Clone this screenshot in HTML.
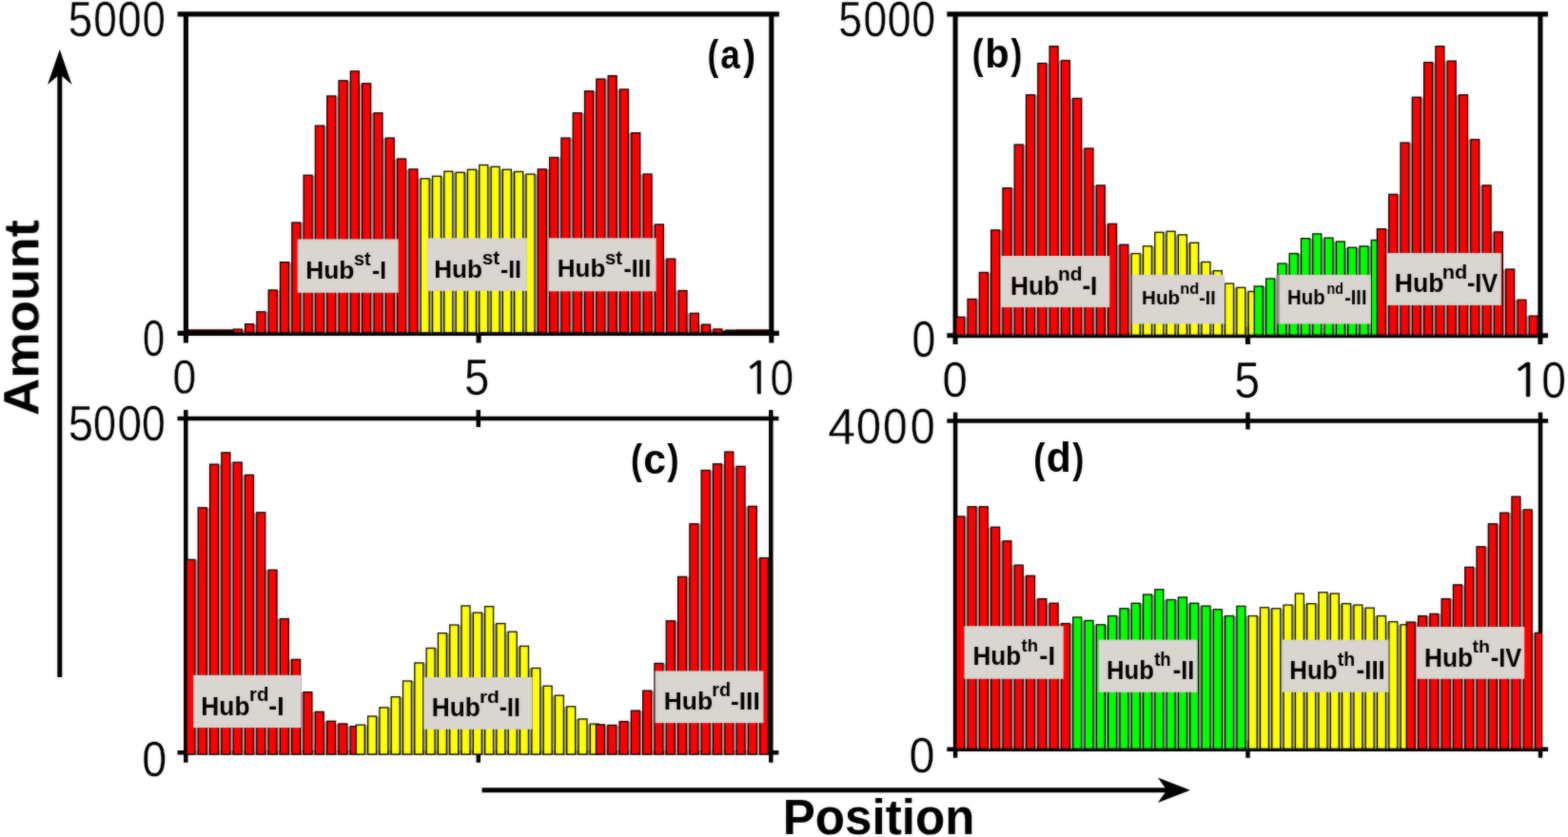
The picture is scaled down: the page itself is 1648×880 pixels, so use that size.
<!DOCTYPE html><html><head><meta charset="utf-8"><style>html,body{margin:0;padding:0;background:#fff;}svg{display:block}</style></head><body>
<svg width="1648" height="880" viewBox="0 0 1648 880" font-family="'Liberation Sans', Arial, sans-serif">
<rect width="1648" height="880" fill="#fff"/>
<filter id="bl" color-interpolation-filters="sRGB" filterUnits="userSpaceOnUse" x="0" y="0" width="1648" height="880"><feGaussianBlur in="SourceGraphic" stdDeviation="0.8" result="b"/><feComposite in="SourceGraphic" in2="b" operator="arithmetic" k1="0" k2="0.55" k3="0.45" k4="0"/></filter>
<g filter="url(#bl)">
<defs>
<clipPath id="ca"><rect x="192.4" y="0" width="616.9" height="880"/></clipPath>
<clipPath id="cb"><rect x="1001.1" y="0" width="616.3000000000001" height="880"/></clipPath>
<clipPath id="cc"><rect x="192.3" y="0" width="616.5" height="880"/></clipPath>
<clipPath id="cd"><rect x="1001.1" y="0" width="619.1999999999999" height="880"/></clipPath>
</defs>
<path d="M186.6,14.9H818.9M186.6,350.4H818.9M195.4,14.9V360.6M810.8,14.9V360.6M503.1,340.2V360.6" stroke="#000" stroke-width="5.1" fill="none"/>
<g stroke="#000" stroke-width="1.35">
<g clip-path="url(#ca)">
<rect x="254.94" y="346.50" width="2.00" height="3.30" fill="#c89494" stroke="none"/>
<rect x="267.25" y="341.00" width="2.00" height="8.80" fill="#c89494" stroke="none"/>
<rect x="279.56" y="328.10" width="2.00" height="21.70" fill="#c89494" stroke="none"/>
<rect x="291.86" y="305.30" width="2.00" height="44.50" fill="#c89494" stroke="none"/>
<rect x="304.17" y="276.00" width="2.00" height="73.80" fill="#c89494" stroke="none"/>
<rect x="316.48" y="234.30" width="2.00" height="115.50" fill="#c89494" stroke="none"/>
<rect x="328.79" y="184.60" width="2.00" height="165.20" fill="#c89494" stroke="none"/>
<rect x="341.10" y="132.50" width="2.00" height="217.30" fill="#c89494" stroke="none"/>
<rect x="353.40" y="101.30" width="2.00" height="248.50" fill="#c89494" stroke="none"/>
<rect x="365.71" y="85.10" width="2.00" height="264.70" fill="#c89494" stroke="none"/>
<rect x="378.02" y="88.10" width="2.00" height="261.70" fill="#c89494" stroke="none"/>
<rect x="390.33" y="119.10" width="2.00" height="230.70" fill="#c89494" stroke="none"/>
<rect x="402.64" y="145.40" width="2.00" height="204.40" fill="#c89494" stroke="none"/>
<rect x="414.94" y="167.30" width="2.00" height="182.50" fill="#c89494" stroke="none"/>
<rect x="427.25" y="178.20" width="2.00" height="171.60" fill="#c89494" stroke="none"/>
<rect x="439.56" y="188.10" width="2.00" height="161.70" fill="#b99e90" stroke="none"/>
<rect x="451.87" y="188.10" width="2.00" height="161.70" fill="#aaa88c" stroke="none"/>
<rect x="464.18" y="185.60" width="2.00" height="164.20" fill="#aaa88c" stroke="none"/>
<rect x="476.48" y="181.60" width="2.00" height="168.20" fill="#aaa88c" stroke="none"/>
<rect x="488.79" y="181.60" width="2.00" height="168.20" fill="#aaa88c" stroke="none"/>
<rect x="501.10" y="178.60" width="2.00" height="171.20" fill="#aaa88c" stroke="none"/>
<rect x="513.41" y="175.60" width="2.00" height="174.20" fill="#aaa88c" stroke="none"/>
<rect x="525.72" y="178.60" width="2.00" height="171.20" fill="#aaa88c" stroke="none"/>
<rect x="538.02" y="180.80" width="2.00" height="169.00" fill="#aaa88c" stroke="none"/>
<rect x="550.33" y="183.40" width="2.00" height="166.40" fill="#aaa88c" stroke="none"/>
<rect x="562.64" y="183.40" width="2.00" height="166.40" fill="#b99e90" stroke="none"/>
<rect x="574.95" y="178.20" width="2.00" height="171.60" fill="#c89494" stroke="none"/>
<rect x="587.26" y="165.90" width="2.00" height="183.90" fill="#c89494" stroke="none"/>
<rect x="599.56" y="145.40" width="2.00" height="204.40" fill="#c89494" stroke="none"/>
<rect x="611.87" y="119.10" width="2.00" height="230.70" fill="#c89494" stroke="none"/>
<rect x="624.18" y="96.10" width="2.00" height="253.70" fill="#c89494" stroke="none"/>
<rect x="636.49" y="83.40" width="2.00" height="266.40" fill="#c89494" stroke="none"/>
<rect x="648.80" y="94.30" width="2.00" height="255.50" fill="#c89494" stroke="none"/>
<rect x="661.10" y="140.00" width="2.00" height="209.80" fill="#c89494" stroke="none"/>
<rect x="673.41" y="183.40" width="2.00" height="166.40" fill="#c89494" stroke="none"/>
<rect x="685.72" y="236.30" width="2.00" height="113.50" fill="#c89494" stroke="none"/>
<rect x="698.03" y="272.50" width="2.00" height="77.30" fill="#c89494" stroke="none"/>
<rect x="710.34" y="305.90" width="2.00" height="43.90" fill="#c89494" stroke="none"/>
<rect x="722.64" y="329.70" width="2.00" height="20.10" fill="#c89494" stroke="none"/>
<rect x="734.95" y="341.50" width="2.00" height="8.30" fill="#c89494" stroke="none"/>
<rect x="747.26" y="346.30" width="2.00" height="3.50" fill="#c89494" stroke="none"/>
<rect x="196.08" y="346.98" width="11.16" height="2.82" fill="#1a0000" stroke="#100000"/>
<rect x="208.38" y="346.98" width="11.16" height="2.82" fill="#1a0000" stroke="#100000"/>
<rect x="220.69" y="346.98" width="11.16" height="2.82" fill="#1a0000" stroke="#100000"/>
<rect x="233.00" y="346.98" width="11.16" height="2.82" fill="#1a0000" stroke="#100000"/>
<rect x="245.31" y="346.18" width="8.96" height="3.62" fill="#ff0000" stroke="#100000"/>
<rect x="257.62" y="340.68" width="8.96" height="9.12" fill="#ff0000" stroke="#100000"/>
<rect x="269.92" y="327.78" width="8.96" height="22.02" fill="#ff0000" stroke="#100000"/>
<rect x="282.23" y="304.98" width="8.96" height="44.82" fill="#ff0000" stroke="#100000"/>
<rect x="294.54" y="275.68" width="8.96" height="74.12" fill="#ff0000" stroke="#100000"/>
<rect x="306.85" y="233.98" width="8.96" height="115.82" fill="#ff0000" stroke="#100000"/>
<rect x="319.16" y="184.28" width="8.96" height="165.53" fill="#ff0000" stroke="#100000"/>
<rect x="331.46" y="132.18" width="8.96" height="217.62" fill="#ff0000" stroke="#100000"/>
<rect x="343.77" y="100.97" width="8.96" height="248.83" fill="#ff0000" stroke="#100000"/>
<rect x="356.08" y="84.77" width="8.96" height="265.03" fill="#ff0000" stroke="#100000"/>
<rect x="368.39" y="74.88" width="8.96" height="274.93" fill="#ff0000" stroke="#100000"/>
<rect x="380.69" y="87.77" width="8.96" height="262.03" fill="#ff0000" stroke="#100000"/>
<rect x="393.00" y="118.77" width="8.96" height="231.03" fill="#ff0000" stroke="#100000"/>
<rect x="405.31" y="145.08" width="8.96" height="204.72" fill="#ff0000" stroke="#100000"/>
<rect x="417.62" y="166.98" width="8.96" height="182.82" fill="#ff0000" stroke="#100000"/>
<rect x="429.93" y="177.88" width="8.96" height="171.93" fill="#ff0000" stroke="#100000"/>
<rect x="442.24" y="187.78" width="8.96" height="162.03" fill="#ffff00" stroke="#101000"/>
<rect x="454.54" y="185.28" width="8.96" height="164.53" fill="#ffff00" stroke="#101000"/>
<rect x="466.85" y="180.28" width="8.96" height="169.53" fill="#ffff00" stroke="#101000"/>
<rect x="479.16" y="181.28" width="8.96" height="168.53" fill="#ffff00" stroke="#101000"/>
<rect x="491.47" y="178.28" width="8.96" height="171.53" fill="#ffff00" stroke="#101000"/>
<rect x="503.78" y="173.48" width="8.96" height="176.32" fill="#ffff00" stroke="#101000"/>
<rect x="516.08" y="175.28" width="8.96" height="174.53" fill="#ffff00" stroke="#101000"/>
<rect x="528.39" y="178.28" width="8.96" height="171.53" fill="#ffff00" stroke="#101000"/>
<rect x="540.70" y="180.48" width="8.96" height="169.32" fill="#ffff00" stroke="#101000"/>
<rect x="553.01" y="183.08" width="8.96" height="166.72" fill="#ffff00" stroke="#101000"/>
<rect x="565.31" y="177.88" width="8.96" height="171.93" fill="#ff0000" stroke="#100000"/>
<rect x="577.62" y="165.58" width="8.96" height="184.22" fill="#ff0000" stroke="#100000"/>
<rect x="589.93" y="145.08" width="8.96" height="204.72" fill="#ff0000" stroke="#100000"/>
<rect x="602.24" y="118.77" width="8.96" height="231.03" fill="#ff0000" stroke="#100000"/>
<rect x="614.55" y="95.77" width="8.96" height="254.03" fill="#ff0000" stroke="#100000"/>
<rect x="626.85" y="83.08" width="8.96" height="266.73" fill="#ff0000" stroke="#100000"/>
<rect x="639.16" y="79.67" width="8.96" height="270.12" fill="#ff0000" stroke="#100000"/>
<rect x="651.47" y="93.97" width="8.96" height="255.83" fill="#ff0000" stroke="#100000"/>
<rect x="663.78" y="139.68" width="8.96" height="210.12" fill="#ff0000" stroke="#100000"/>
<rect x="676.09" y="183.08" width="8.96" height="166.72" fill="#ff0000" stroke="#100000"/>
<rect x="688.39" y="235.98" width="8.96" height="113.82" fill="#ff0000" stroke="#100000"/>
<rect x="700.70" y="272.18" width="8.96" height="77.62" fill="#ff0000" stroke="#100000"/>
<rect x="713.01" y="305.57" width="8.96" height="44.23" fill="#ff0000" stroke="#100000"/>
<rect x="725.32" y="329.38" width="8.96" height="20.43" fill="#ff0000" stroke="#100000"/>
<rect x="737.63" y="341.18" width="8.96" height="8.62" fill="#ff0000" stroke="#100000"/>
<rect x="749.93" y="345.98" width="8.96" height="3.82" fill="#ff0000" stroke="#100000"/>
<rect x="762.24" y="347.18" width="11.16" height="2.62" fill="#1a0000" stroke="#100000"/>
<rect x="774.55" y="346.98" width="11.16" height="2.82" fill="#1a0000" stroke="#100000"/>
<rect x="786.86" y="346.98" width="11.16" height="2.82" fill="#1a0000" stroke="#100000"/>
<rect x="799.17" y="346.98" width="11.16" height="2.82" fill="#1a0000" stroke="#100000"/>
</g>
</g>
<path d="M995.3,14.9H1627.0M995.3,352.8H1627.0M1004.1,14.9V362.0M1618.9,14.9V362.0M1311.5,343.6V362.0" stroke="#000" stroke-width="5.1" fill="none"/>
<g stroke="#000" stroke-width="1.35">
<g clip-path="url(#cb)">
<rect x="1014.40" y="333.70" width="2.00" height="18.60" fill="#c89494" stroke="none"/>
<rect x="1026.69" y="314.80" width="2.00" height="37.50" fill="#c89494" stroke="none"/>
<rect x="1038.99" y="286.80" width="2.00" height="65.50" fill="#c89494" stroke="none"/>
<rect x="1051.28" y="242.20" width="2.00" height="110.10" fill="#c89494" stroke="none"/>
<rect x="1063.58" y="198.00" width="2.00" height="154.30" fill="#c89494" stroke="none"/>
<rect x="1075.88" y="152.40" width="2.00" height="199.90" fill="#c89494" stroke="none"/>
<rect x="1088.17" y="100.10" width="2.00" height="252.20" fill="#c89494" stroke="none"/>
<rect x="1100.47" y="66.90" width="2.00" height="285.40" fill="#c89494" stroke="none"/>
<rect x="1112.76" y="63.90" width="2.00" height="288.40" fill="#c89494" stroke="none"/>
<rect x="1125.06" y="103.80" width="2.00" height="248.50" fill="#c89494" stroke="none"/>
<rect x="1137.36" y="156.30" width="2.00" height="196.00" fill="#c89494" stroke="none"/>
<rect x="1149.65" y="195.20" width="2.00" height="157.10" fill="#c89494" stroke="none"/>
<rect x="1161.95" y="235.70" width="2.00" height="116.60" fill="#c89494" stroke="none"/>
<rect x="1174.24" y="257.60" width="2.00" height="94.70" fill="#c89494" stroke="none"/>
<rect x="1186.54" y="266.90" width="2.00" height="85.40" fill="#b99e90" stroke="none"/>
<rect x="1198.84" y="266.90" width="2.00" height="85.40" fill="#aaa88c" stroke="none"/>
<rect x="1211.13" y="259.10" width="2.00" height="93.20" fill="#aaa88c" stroke="none"/>
<rect x="1223.43" y="244.60" width="2.00" height="107.70" fill="#aaa88c" stroke="none"/>
<rect x="1235.72" y="247.20" width="2.00" height="105.10" fill="#aaa88c" stroke="none"/>
<rect x="1248.02" y="255.60" width="2.00" height="96.70" fill="#aaa88c" stroke="none"/>
<rect x="1260.32" y="275.80" width="2.00" height="76.50" fill="#aaa88c" stroke="none"/>
<rect x="1272.61" y="285.00" width="2.00" height="67.30" fill="#aaa88c" stroke="none"/>
<rect x="1284.91" y="298.40" width="2.00" height="53.90" fill="#aaa88c" stroke="none"/>
<rect x="1297.20" y="302.70" width="2.00" height="49.60" fill="#aaa88c" stroke="none"/>
<rect x="1309.50" y="306.80" width="2.00" height="45.50" fill="#aaa88c" stroke="none"/>
<rect x="1327.94" y="301.30" width="2.00" height="51.00" fill="#8caa8c" stroke="none"/>
<rect x="1340.24" y="293.30" width="2.00" height="59.00" fill="#8caa8c" stroke="none"/>
<rect x="1352.54" y="277.40" width="2.00" height="74.90" fill="#8caa8c" stroke="none"/>
<rect x="1364.83" y="266.90" width="2.00" height="85.40" fill="#8caa8c" stroke="none"/>
<rect x="1377.13" y="251.00" width="2.00" height="101.30" fill="#8caa8c" stroke="none"/>
<rect x="1389.42" y="250.50" width="2.00" height="101.80" fill="#8caa8c" stroke="none"/>
<rect x="1401.72" y="254.30" width="2.00" height="98.00" fill="#8caa8c" stroke="none"/>
<rect x="1414.02" y="260.60" width="2.00" height="91.70" fill="#8caa8c" stroke="none"/>
<rect x="1426.31" y="260.60" width="2.00" height="91.70" fill="#8caa8c" stroke="none"/>
<rect x="1438.61" y="259.20" width="2.00" height="93.10" fill="#8caa8c" stroke="none"/>
<rect x="1457.05" y="241.00" width="2.00" height="111.30" fill="#c89494" stroke="none"/>
<rect x="1469.35" y="204.70" width="2.00" height="147.60" fill="#c89494" stroke="none"/>
<rect x="1481.64" y="150.40" width="2.00" height="201.90" fill="#c89494" stroke="none"/>
<rect x="1493.94" y="102.60" width="2.00" height="249.70" fill="#c89494" stroke="none"/>
<rect x="1506.24" y="65.90" width="2.00" height="286.40" fill="#c89494" stroke="none"/>
<rect x="1518.53" y="64.50" width="2.00" height="287.80" fill="#c89494" stroke="none"/>
<rect x="1530.83" y="100.10" width="2.00" height="252.20" fill="#c89494" stroke="none"/>
<rect x="1543.12" y="147.00" width="2.00" height="205.30" fill="#c89494" stroke="none"/>
<rect x="1555.42" y="195.20" width="2.00" height="157.10" fill="#c89494" stroke="none"/>
<rect x="1567.72" y="244.20" width="2.00" height="108.10" fill="#c89494" stroke="none"/>
<rect x="1580.01" y="283.40" width="2.00" height="68.90" fill="#c89494" stroke="none"/>
<rect x="1592.31" y="315.60" width="2.00" height="36.70" fill="#c89494" stroke="none"/>
<rect x="1604.60" y="332.50" width="2.00" height="19.80" fill="#c89494" stroke="none"/>
<rect x="1004.77" y="333.38" width="8.95" height="18.93" fill="#ff0000" stroke="#100000"/>
<rect x="1017.07" y="314.48" width="8.95" height="37.82" fill="#ff0000" stroke="#100000"/>
<rect x="1029.37" y="286.48" width="8.95" height="65.82" fill="#ff0000" stroke="#100000"/>
<rect x="1041.66" y="241.88" width="8.95" height="110.43" fill="#ff0000" stroke="#100000"/>
<rect x="1053.96" y="197.68" width="8.95" height="154.62" fill="#ff0000" stroke="#100000"/>
<rect x="1066.25" y="152.08" width="8.95" height="200.22" fill="#ff0000" stroke="#100000"/>
<rect x="1078.55" y="99.77" width="8.95" height="252.53" fill="#ff0000" stroke="#100000"/>
<rect x="1090.85" y="66.58" width="8.95" height="285.73" fill="#ff0000" stroke="#100000"/>
<rect x="1103.14" y="48.67" width="8.95" height="303.62" fill="#ff0000" stroke="#100000"/>
<rect x="1115.44" y="63.57" width="8.95" height="288.73" fill="#ff0000" stroke="#100000"/>
<rect x="1127.73" y="103.47" width="8.95" height="248.83" fill="#ff0000" stroke="#100000"/>
<rect x="1140.03" y="155.98" width="8.95" height="196.32" fill="#ff0000" stroke="#100000"/>
<rect x="1152.33" y="194.88" width="8.95" height="157.43" fill="#ff0000" stroke="#100000"/>
<rect x="1164.62" y="235.38" width="8.95" height="116.93" fill="#ff0000" stroke="#100000"/>
<rect x="1176.92" y="257.28" width="8.95" height="95.02" fill="#ff0000" stroke="#100000"/>
<rect x="1189.21" y="266.57" width="8.95" height="85.73" fill="#ffff00" stroke="#101000"/>
<rect x="1201.51" y="258.78" width="8.95" height="93.52" fill="#ffff00" stroke="#101000"/>
<rect x="1213.81" y="244.28" width="8.95" height="108.03" fill="#ffff00" stroke="#101000"/>
<rect x="1226.10" y="243.28" width="8.95" height="109.03" fill="#ffff00" stroke="#101000"/>
<rect x="1238.40" y="246.88" width="8.95" height="105.43" fill="#ffff00" stroke="#101000"/>
<rect x="1250.69" y="255.28" width="8.95" height="97.03" fill="#ffff00" stroke="#101000"/>
<rect x="1262.99" y="275.48" width="8.95" height="76.82" fill="#ffff00" stroke="#101000"/>
<rect x="1275.29" y="284.68" width="8.95" height="67.62" fill="#ffff00" stroke="#101000"/>
<rect x="1287.58" y="298.07" width="8.95" height="54.23" fill="#ffff00" stroke="#101000"/>
<rect x="1299.88" y="302.38" width="8.95" height="49.93" fill="#ffff00" stroke="#101000"/>
<rect x="1312.17" y="306.48" width="8.95" height="45.82" fill="#ffff00" stroke="#101000"/>
<rect x="1318.32" y="300.98" width="8.95" height="51.32" fill="#00ff00" stroke="#001000"/>
<rect x="1330.62" y="292.98" width="8.95" height="59.32" fill="#00ff00" stroke="#001000"/>
<rect x="1342.91" y="277.07" width="8.95" height="75.23" fill="#00ff00" stroke="#001000"/>
<rect x="1355.21" y="266.57" width="8.95" height="85.73" fill="#00ff00" stroke="#001000"/>
<rect x="1367.51" y="250.68" width="8.95" height="101.62" fill="#00ff00" stroke="#001000"/>
<rect x="1379.80" y="245.88" width="8.95" height="106.43" fill="#00ff00" stroke="#001000"/>
<rect x="1392.10" y="250.18" width="8.95" height="102.12" fill="#00ff00" stroke="#001000"/>
<rect x="1404.39" y="253.98" width="8.95" height="98.32" fill="#00ff00" stroke="#001000"/>
<rect x="1416.69" y="260.28" width="8.95" height="92.02" fill="#00ff00" stroke="#001000"/>
<rect x="1428.99" y="258.88" width="8.95" height="93.43" fill="#00ff00" stroke="#001000"/>
<rect x="1441.28" y="252.48" width="8.95" height="99.82" fill="#00ff00" stroke="#001000"/>
<rect x="1447.43" y="240.68" width="8.95" height="111.62" fill="#ff0000" stroke="#100000"/>
<rect x="1459.73" y="204.38" width="8.95" height="147.93" fill="#ff0000" stroke="#100000"/>
<rect x="1472.02" y="150.08" width="8.95" height="202.22" fill="#ff0000" stroke="#100000"/>
<rect x="1484.32" y="102.27" width="8.95" height="250.03" fill="#ff0000" stroke="#100000"/>
<rect x="1496.62" y="65.58" width="8.95" height="286.73" fill="#ff0000" stroke="#100000"/>
<rect x="1508.91" y="48.67" width="8.95" height="303.62" fill="#ff0000" stroke="#100000"/>
<rect x="1521.21" y="64.17" width="8.95" height="288.12" fill="#ff0000" stroke="#100000"/>
<rect x="1533.50" y="99.77" width="8.95" height="252.53" fill="#ff0000" stroke="#100000"/>
<rect x="1545.80" y="146.68" width="8.95" height="205.62" fill="#ff0000" stroke="#100000"/>
<rect x="1558.10" y="194.88" width="8.95" height="157.43" fill="#ff0000" stroke="#100000"/>
<rect x="1570.39" y="243.88" width="8.95" height="108.43" fill="#ff0000" stroke="#100000"/>
<rect x="1582.69" y="283.07" width="8.95" height="69.23" fill="#ff0000" stroke="#100000"/>
<rect x="1594.98" y="315.28" width="8.95" height="37.02" fill="#ff0000" stroke="#100000"/>
<rect x="1607.28" y="332.18" width="8.95" height="20.12" fill="#ff0000" stroke="#100000"/>
</g>
</g>
<path d="M186.5,440.0H818.4M186.5,791.3H818.4M195.3,440.0V801.7M810.3,440.0V801.7M502.8,780.9V801.7M195.3,431.0V440.0M810.3,431.0V440.0M502.8,431.0V449.0" stroke="#000" stroke-width="4.5" fill="none"/>
<g stroke="#000" stroke-width="1.35">
<g clip-path="url(#cc)">
<rect x="205.60" y="588.70" width="2.00" height="204.30" fill="#c89494" stroke="none"/>
<rect x="217.90" y="534.10" width="2.00" height="258.90" fill="#c89494" stroke="none"/>
<rect x="230.20" y="488.50" width="2.00" height="304.50" fill="#c89494" stroke="none"/>
<rect x="242.50" y="486.40" width="2.00" height="306.60" fill="#c89494" stroke="none"/>
<rect x="254.80" y="499.70" width="2.00" height="293.30" fill="#c89494" stroke="none"/>
<rect x="267.10" y="539.20" width="2.00" height="253.80" fill="#c89494" stroke="none"/>
<rect x="279.40" y="599.60" width="2.00" height="193.40" fill="#c89494" stroke="none"/>
<rect x="291.70" y="650.90" width="2.00" height="142.10" fill="#c89494" stroke="none"/>
<rect x="304.00" y="693.70" width="2.00" height="99.30" fill="#c89494" stroke="none"/>
<rect x="316.30" y="728.00" width="2.00" height="65.00" fill="#c89494" stroke="none"/>
<rect x="328.60" y="748.70" width="2.00" height="44.30" fill="#c89494" stroke="none"/>
<rect x="340.90" y="758.60" width="2.00" height="34.40" fill="#c89494" stroke="none"/>
<rect x="353.20" y="761.30" width="2.00" height="31.70" fill="#c89494" stroke="none"/>
<rect x="365.50" y="764.00" width="2.00" height="29.00" fill="#c89494" stroke="none"/>
<rect x="383.95" y="762.50" width="2.00" height="30.50" fill="#aaa88c" stroke="none"/>
<rect x="396.25" y="753.40" width="2.00" height="39.60" fill="#aaa88c" stroke="none"/>
<rect x="408.55" y="744.20" width="2.00" height="48.80" fill="#aaa88c" stroke="none"/>
<rect x="420.85" y="733.00" width="2.00" height="60.00" fill="#aaa88c" stroke="none"/>
<rect x="433.15" y="716.30" width="2.00" height="76.70" fill="#aaa88c" stroke="none"/>
<rect x="445.45" y="697.30" width="2.00" height="95.70" fill="#aaa88c" stroke="none"/>
<rect x="457.75" y="681.80" width="2.00" height="111.20" fill="#aaa88c" stroke="none"/>
<rect x="470.05" y="666.00" width="2.00" height="127.00" fill="#aaa88c" stroke="none"/>
<rect x="482.35" y="657.40" width="2.00" height="135.60" fill="#aaa88c" stroke="none"/>
<rect x="494.65" y="644.50" width="2.00" height="148.50" fill="#aaa88c" stroke="none"/>
<rect x="506.95" y="644.50" width="2.00" height="148.50" fill="#aaa88c" stroke="none"/>
<rect x="519.25" y="655.90" width="2.00" height="137.10" fill="#aaa88c" stroke="none"/>
<rect x="531.55" y="664.60" width="2.00" height="128.40" fill="#aaa88c" stroke="none"/>
<rect x="543.85" y="679.70" width="2.00" height="113.30" fill="#aaa88c" stroke="none"/>
<rect x="556.15" y="702.80" width="2.00" height="90.20" fill="#aaa88c" stroke="none"/>
<rect x="568.45" y="721.60" width="2.00" height="71.40" fill="#aaa88c" stroke="none"/>
<rect x="580.75" y="731.50" width="2.00" height="61.50" fill="#aaa88c" stroke="none"/>
<rect x="593.05" y="743.20" width="2.00" height="49.80" fill="#aaa88c" stroke="none"/>
<rect x="605.35" y="756.30" width="2.00" height="36.70" fill="#aaa88c" stroke="none"/>
<rect x="617.65" y="761.50" width="2.00" height="31.50" fill="#aaa88c" stroke="none"/>
<rect x="636.10" y="762.80" width="2.00" height="30.20" fill="#c89494" stroke="none"/>
<rect x="648.40" y="762.80" width="2.00" height="30.20" fill="#c89494" stroke="none"/>
<rect x="660.70" y="758.90" width="2.00" height="34.10" fill="#c89494" stroke="none"/>
<rect x="673.00" y="747.50" width="2.00" height="45.50" fill="#c89494" stroke="none"/>
<rect x="685.30" y="726.50" width="2.00" height="66.50" fill="#c89494" stroke="none"/>
<rect x="697.60" y="697.80" width="2.00" height="95.20" fill="#c89494" stroke="none"/>
<rect x="709.90" y="653.10" width="2.00" height="139.90" fill="#c89494" stroke="none"/>
<rect x="722.20" y="606.70" width="2.00" height="186.30" fill="#c89494" stroke="none"/>
<rect x="734.50" y="551.10" width="2.00" height="241.90" fill="#c89494" stroke="none"/>
<rect x="746.80" y="494.80" width="2.00" height="298.20" fill="#c89494" stroke="none"/>
<rect x="759.10" y="488.10" width="2.00" height="304.90" fill="#c89494" stroke="none"/>
<rect x="771.40" y="490.70" width="2.00" height="302.30" fill="#c89494" stroke="none"/>
<rect x="783.70" y="532.70" width="2.00" height="260.30" fill="#c89494" stroke="none"/>
<rect x="796.00" y="586.90" width="2.00" height="206.10" fill="#c89494" stroke="none"/>
<rect x="195.98" y="588.38" width="8.95" height="204.62" fill="#ff0000" stroke="#100000"/>
<rect x="208.28" y="533.77" width="8.95" height="259.23" fill="#ff0000" stroke="#100000"/>
<rect x="220.58" y="488.18" width="8.95" height="304.82" fill="#ff0000" stroke="#100000"/>
<rect x="232.88" y="475.88" width="8.95" height="317.12" fill="#ff0000" stroke="#100000"/>
<rect x="245.18" y="486.07" width="8.95" height="306.93" fill="#ff0000" stroke="#100000"/>
<rect x="257.48" y="499.38" width="8.95" height="293.62" fill="#ff0000" stroke="#100000"/>
<rect x="269.78" y="538.88" width="8.95" height="254.12" fill="#ff0000" stroke="#100000"/>
<rect x="282.08" y="599.27" width="8.95" height="193.73" fill="#ff0000" stroke="#100000"/>
<rect x="294.38" y="650.57" width="8.95" height="142.43" fill="#ff0000" stroke="#100000"/>
<rect x="306.68" y="693.38" width="8.95" height="99.62" fill="#ff0000" stroke="#100000"/>
<rect x="318.98" y="727.67" width="8.95" height="65.33" fill="#ff0000" stroke="#100000"/>
<rect x="331.28" y="748.38" width="8.95" height="44.62" fill="#ff0000" stroke="#100000"/>
<rect x="343.58" y="758.27" width="8.95" height="34.73" fill="#ff0000" stroke="#100000"/>
<rect x="355.88" y="760.97" width="8.95" height="32.03" fill="#ff0000" stroke="#100000"/>
<rect x="368.18" y="763.67" width="8.95" height="29.33" fill="#ff0000" stroke="#100000"/>
<rect x="374.33" y="762.17" width="8.95" height="30.83" fill="#ffff00" stroke="#101000"/>
<rect x="386.63" y="753.07" width="8.95" height="39.93" fill="#ffff00" stroke="#101000"/>
<rect x="398.93" y="743.88" width="8.95" height="49.12" fill="#ffff00" stroke="#101000"/>
<rect x="411.23" y="732.67" width="8.95" height="60.33" fill="#ffff00" stroke="#101000"/>
<rect x="423.53" y="715.97" width="8.95" height="77.03" fill="#ffff00" stroke="#101000"/>
<rect x="435.83" y="696.97" width="8.95" height="96.03" fill="#ffff00" stroke="#101000"/>
<rect x="448.13" y="681.47" width="8.95" height="111.53" fill="#ffff00" stroke="#101000"/>
<rect x="460.43" y="665.67" width="8.95" height="127.33" fill="#ffff00" stroke="#101000"/>
<rect x="472.73" y="657.07" width="8.95" height="135.93" fill="#ffff00" stroke="#101000"/>
<rect x="485.03" y="636.97" width="8.95" height="156.03" fill="#ffff00" stroke="#101000"/>
<rect x="497.33" y="644.17" width="8.95" height="148.83" fill="#ffff00" stroke="#101000"/>
<rect x="509.63" y="637.67" width="8.95" height="155.33" fill="#ffff00" stroke="#101000"/>
<rect x="521.92" y="655.57" width="8.95" height="137.43" fill="#ffff00" stroke="#101000"/>
<rect x="534.22" y="664.27" width="8.95" height="128.73" fill="#ffff00" stroke="#101000"/>
<rect x="546.52" y="679.38" width="8.95" height="113.62" fill="#ffff00" stroke="#101000"/>
<rect x="558.83" y="702.47" width="8.95" height="90.53" fill="#ffff00" stroke="#101000"/>
<rect x="571.12" y="721.27" width="8.95" height="71.73" fill="#ffff00" stroke="#101000"/>
<rect x="583.42" y="731.17" width="8.95" height="61.83" fill="#ffff00" stroke="#101000"/>
<rect x="595.72" y="742.88" width="8.95" height="50.12" fill="#ffff00" stroke="#101000"/>
<rect x="608.02" y="755.97" width="8.95" height="37.03" fill="#ffff00" stroke="#101000"/>
<rect x="620.33" y="761.17" width="8.95" height="31.83" fill="#ffff00" stroke="#101000"/>
<rect x="626.47" y="761.88" width="8.95" height="31.12" fill="#ff0000" stroke="#100000"/>
<rect x="638.77" y="762.47" width="8.95" height="30.53" fill="#ff0000" stroke="#100000"/>
<rect x="651.08" y="758.57" width="8.95" height="34.43" fill="#ff0000" stroke="#100000"/>
<rect x="663.38" y="747.17" width="8.95" height="45.83" fill="#ff0000" stroke="#100000"/>
<rect x="675.67" y="726.17" width="8.95" height="66.83" fill="#ff0000" stroke="#100000"/>
<rect x="687.97" y="697.47" width="8.95" height="95.53" fill="#ff0000" stroke="#100000"/>
<rect x="700.27" y="652.77" width="8.95" height="140.23" fill="#ff0000" stroke="#100000"/>
<rect x="712.58" y="606.38" width="8.95" height="186.62" fill="#ff0000" stroke="#100000"/>
<rect x="724.88" y="550.77" width="8.95" height="242.23" fill="#ff0000" stroke="#100000"/>
<rect x="737.17" y="494.48" width="8.95" height="298.52" fill="#ff0000" stroke="#100000"/>
<rect x="749.47" y="487.78" width="8.95" height="305.22" fill="#ff0000" stroke="#100000"/>
<rect x="761.78" y="475.07" width="8.95" height="317.93" fill="#ff0000" stroke="#100000"/>
<rect x="774.08" y="490.38" width="8.95" height="302.62" fill="#ff0000" stroke="#100000"/>
<rect x="786.38" y="532.38" width="8.95" height="260.62" fill="#ff0000" stroke="#100000"/>
<rect x="798.67" y="586.57" width="8.95" height="206.43" fill="#ff0000" stroke="#100000"/>
</g>
</g>
<path d="M995.3,442.5H1627.1M995.3,787.7H1627.1M1004.1,442.5V796.8M1619.0,442.5V796.8M1311.5,778.6V796.8M1004.1,433.5V442.5M1619.0,433.5V442.5M1311.5,433.5V451.5" stroke="#000" stroke-width="4.5" fill="none"/>
<g stroke="#000" stroke-width="1.35">
<g clip-path="url(#cd)">
<rect x="1014.40" y="543.30" width="2.00" height="244.00" fill="#c89494" stroke="none"/>
<rect x="1026.70" y="533.10" width="2.00" height="254.20" fill="#c89494" stroke="none"/>
<rect x="1038.99" y="554.60" width="2.00" height="232.70" fill="#c89494" stroke="none"/>
<rect x="1051.29" y="569.10" width="2.00" height="218.20" fill="#c89494" stroke="none"/>
<rect x="1063.59" y="594.50" width="2.00" height="192.80" fill="#c89494" stroke="none"/>
<rect x="1075.89" y="605.70" width="2.00" height="181.60" fill="#c89494" stroke="none"/>
<rect x="1088.19" y="629.90" width="2.00" height="157.40" fill="#c89494" stroke="none"/>
<rect x="1100.48" y="634.60" width="2.00" height="152.70" fill="#c89494" stroke="none"/>
<rect x="1112.78" y="655.90" width="2.00" height="131.40" fill="#c89494" stroke="none"/>
<rect x="1125.08" y="655.90" width="2.00" height="131.40" fill="#aa9f90" stroke="none"/>
<rect x="1137.38" y="652.80" width="2.00" height="134.50" fill="#8caa8c" stroke="none"/>
<rect x="1149.68" y="657.10" width="2.00" height="130.20" fill="#8caa8c" stroke="none"/>
<rect x="1161.97" y="657.10" width="2.00" height="130.20" fill="#8caa8c" stroke="none"/>
<rect x="1174.27" y="647.90" width="2.00" height="139.40" fill="#8caa8c" stroke="none"/>
<rect x="1186.57" y="640.10" width="2.00" height="147.20" fill="#8caa8c" stroke="none"/>
<rect x="1198.87" y="634.60" width="2.00" height="152.70" fill="#8caa8c" stroke="none"/>
<rect x="1211.17" y="625.40" width="2.00" height="161.90" fill="#8caa8c" stroke="none"/>
<rect x="1223.46" y="630.90" width="2.00" height="156.40" fill="#8caa8c" stroke="none"/>
<rect x="1235.76" y="630.90" width="2.00" height="156.40" fill="#8caa8c" stroke="none"/>
<rect x="1248.06" y="634.60" width="2.00" height="152.70" fill="#8caa8c" stroke="none"/>
<rect x="1260.36" y="637.50" width="2.00" height="149.80" fill="#8caa8c" stroke="none"/>
<rect x="1272.66" y="641.10" width="2.00" height="146.20" fill="#8caa8c" stroke="none"/>
<rect x="1284.95" y="647.90" width="2.00" height="139.40" fill="#8caa8c" stroke="none"/>
<rect x="1297.25" y="647.90" width="2.00" height="139.40" fill="#8caa8c" stroke="none"/>
<rect x="1309.55" y="647.90" width="2.00" height="139.40" fill="#9ba98c" stroke="none"/>
<rect x="1321.85" y="647.90" width="2.00" height="139.40" fill="#aaa88c" stroke="none"/>
<rect x="1334.15" y="640.10" width="2.00" height="147.20" fill="#aaa88c" stroke="none"/>
<rect x="1346.44" y="640.10" width="2.00" height="147.20" fill="#aaa88c" stroke="none"/>
<rect x="1358.74" y="636.40" width="2.00" height="150.90" fill="#aaa88c" stroke="none"/>
<rect x="1371.04" y="635.00" width="2.00" height="152.30" fill="#aaa88c" stroke="none"/>
<rect x="1383.34" y="635.00" width="2.00" height="152.30" fill="#aaa88c" stroke="none"/>
<rect x="1395.64" y="624.40" width="2.00" height="162.90" fill="#aaa88c" stroke="none"/>
<rect x="1407.93" y="635.00" width="2.00" height="152.30" fill="#aaa88c" stroke="none"/>
<rect x="1420.23" y="636.40" width="2.00" height="150.90" fill="#aaa88c" stroke="none"/>
<rect x="1432.53" y="639.50" width="2.00" height="147.80" fill="#aaa88c" stroke="none"/>
<rect x="1444.83" y="647.90" width="2.00" height="139.40" fill="#aaa88c" stroke="none"/>
<rect x="1457.13" y="654.00" width="2.00" height="133.30" fill="#aaa88c" stroke="none"/>
<rect x="1469.42" y="657.10" width="2.00" height="130.20" fill="#aaa88c" stroke="none"/>
<rect x="1487.87" y="654.40" width="2.00" height="132.90" fill="#c89494" stroke="none"/>
<rect x="1500.17" y="647.90" width="2.00" height="139.40" fill="#c89494" stroke="none"/>
<rect x="1512.47" y="645.80" width="2.00" height="141.50" fill="#c89494" stroke="none"/>
<rect x="1524.77" y="629.90" width="2.00" height="157.40" fill="#c89494" stroke="none"/>
<rect x="1537.06" y="615.20" width="2.00" height="172.10" fill="#c89494" stroke="none"/>
<rect x="1549.36" y="596.70" width="2.00" height="190.60" fill="#c89494" stroke="none"/>
<rect x="1561.66" y="575.10" width="2.00" height="212.20" fill="#c89494" stroke="none"/>
<rect x="1573.96" y="551.10" width="2.00" height="236.20" fill="#c89494" stroke="none"/>
<rect x="1586.25" y="539.50" width="2.00" height="247.80" fill="#c89494" stroke="none"/>
<rect x="1598.55" y="536.20" width="2.00" height="251.10" fill="#c89494" stroke="none"/>
<rect x="1610.85" y="665.70" width="2.00" height="121.60" fill="#c89494" stroke="none"/>
<rect x="1004.77" y="542.97" width="8.95" height="244.33" fill="#ff0000" stroke="#100000"/>
<rect x="1017.07" y="532.77" width="8.95" height="254.52" fill="#ff0000" stroke="#100000"/>
<rect x="1029.37" y="532.77" width="8.95" height="254.52" fill="#ff0000" stroke="#100000"/>
<rect x="1041.67" y="554.27" width="8.95" height="233.02" fill="#ff0000" stroke="#100000"/>
<rect x="1053.97" y="568.77" width="8.95" height="218.52" fill="#ff0000" stroke="#100000"/>
<rect x="1066.26" y="594.17" width="8.95" height="193.12" fill="#ff0000" stroke="#100000"/>
<rect x="1078.56" y="605.38" width="8.95" height="181.92" fill="#ff0000" stroke="#100000"/>
<rect x="1090.86" y="629.57" width="8.95" height="157.73" fill="#ff0000" stroke="#100000"/>
<rect x="1103.16" y="634.27" width="8.95" height="153.02" fill="#ff0000" stroke="#100000"/>
<rect x="1115.46" y="655.57" width="8.95" height="131.73" fill="#ff0000" stroke="#100000"/>
<rect x="1127.75" y="648.97" width="8.95" height="138.33" fill="#00ff00" stroke="#001000"/>
<rect x="1140.05" y="652.47" width="8.95" height="134.83" fill="#00ff00" stroke="#001000"/>
<rect x="1152.35" y="656.77" width="8.95" height="130.52" fill="#00ff00" stroke="#001000"/>
<rect x="1164.65" y="647.57" width="8.95" height="139.73" fill="#00ff00" stroke="#001000"/>
<rect x="1176.95" y="639.77" width="8.95" height="147.52" fill="#00ff00" stroke="#001000"/>
<rect x="1189.24" y="634.27" width="8.95" height="153.02" fill="#00ff00" stroke="#001000"/>
<rect x="1201.54" y="625.07" width="8.95" height="162.23" fill="#00ff00" stroke="#001000"/>
<rect x="1213.84" y="619.77" width="8.95" height="167.52" fill="#00ff00" stroke="#001000"/>
<rect x="1226.14" y="630.57" width="8.95" height="156.73" fill="#00ff00" stroke="#001000"/>
<rect x="1238.44" y="627.97" width="8.95" height="159.33" fill="#00ff00" stroke="#001000"/>
<rect x="1250.73" y="634.27" width="8.95" height="153.02" fill="#00ff00" stroke="#001000"/>
<rect x="1263.03" y="637.17" width="8.95" height="150.12" fill="#00ff00" stroke="#001000"/>
<rect x="1275.33" y="640.77" width="8.95" height="146.52" fill="#00ff00" stroke="#001000"/>
<rect x="1287.63" y="647.57" width="8.95" height="139.73" fill="#00ff00" stroke="#001000"/>
<rect x="1299.93" y="637.38" width="8.95" height="149.92" fill="#00ff00" stroke="#001000"/>
<rect x="1312.22" y="647.57" width="8.95" height="139.73" fill="#ffff00" stroke="#101000"/>
<rect x="1324.52" y="638.77" width="8.95" height="148.52" fill="#ffff00" stroke="#101000"/>
<rect x="1336.82" y="639.77" width="8.95" height="147.52" fill="#ffff00" stroke="#101000"/>
<rect x="1349.12" y="636.07" width="8.95" height="151.23" fill="#ffff00" stroke="#101000"/>
<rect x="1361.42" y="624.07" width="8.95" height="163.23" fill="#ffff00" stroke="#101000"/>
<rect x="1373.71" y="634.67" width="8.95" height="152.62" fill="#ffff00" stroke="#101000"/>
<rect x="1386.01" y="622.77" width="8.95" height="164.52" fill="#ffff00" stroke="#101000"/>
<rect x="1398.31" y="624.07" width="8.95" height="163.23" fill="#ffff00" stroke="#101000"/>
<rect x="1410.61" y="634.67" width="8.95" height="152.62" fill="#ffff00" stroke="#101000"/>
<rect x="1422.91" y="636.07" width="8.95" height="151.23" fill="#ffff00" stroke="#101000"/>
<rect x="1435.20" y="639.17" width="8.95" height="148.12" fill="#ffff00" stroke="#101000"/>
<rect x="1447.50" y="647.57" width="8.95" height="139.73" fill="#ffff00" stroke="#101000"/>
<rect x="1459.80" y="653.67" width="8.95" height="133.62" fill="#ffff00" stroke="#101000"/>
<rect x="1472.10" y="656.77" width="8.95" height="130.52" fill="#ffff00" stroke="#101000"/>
<rect x="1478.25" y="654.07" width="8.95" height="133.23" fill="#ff0000" stroke="#100000"/>
<rect x="1490.55" y="647.57" width="8.95" height="139.73" fill="#ff0000" stroke="#100000"/>
<rect x="1502.84" y="645.47" width="8.95" height="141.83" fill="#ff0000" stroke="#100000"/>
<rect x="1515.14" y="629.57" width="8.95" height="157.73" fill="#ff0000" stroke="#100000"/>
<rect x="1527.44" y="614.88" width="8.95" height="172.42" fill="#ff0000" stroke="#100000"/>
<rect x="1539.74" y="596.38" width="8.95" height="190.92" fill="#ff0000" stroke="#100000"/>
<rect x="1552.04" y="574.77" width="8.95" height="212.52" fill="#ff0000" stroke="#100000"/>
<rect x="1564.33" y="550.77" width="8.95" height="236.52" fill="#ff0000" stroke="#100000"/>
<rect x="1576.63" y="539.17" width="8.95" height="248.12" fill="#ff0000" stroke="#100000"/>
<rect x="1588.93" y="522.17" width="8.95" height="265.12" fill="#ff0000" stroke="#100000"/>
<rect x="1601.23" y="535.88" width="8.95" height="251.42" fill="#ff0000" stroke="#100000"/>
<rect x="1613.53" y="665.38" width="8.95" height="121.92" fill="#ff0000" stroke="#100000"/>
</g>
</g>
<rect x="312.6" y="251.4" width="106.1" height="56.4" fill="#d9d5d0"/>
<text font-weight="bold"><tspan x="321.13" y="292.70" font-size="26.60" textLength="51.35" lengthAdjust="spacingAndGlyphs">Hub</tspan><tspan x="371.90" y="279.20" font-size="20.08" textLength="17.64" lengthAdjust="spacingAndGlyphs">st</tspan><tspan x="391.04" y="292.70" font-size="26.60" textLength="15.00" lengthAdjust="spacingAndGlyphs">-I</tspan></text>
<rect x="448.4" y="250.3" width="105.5" height="55.6" fill="#d9d5d0"/>
<text font-weight="bold"><tspan x="456.15" y="291.50" font-size="26.60" textLength="50.82" lengthAdjust="spacingAndGlyphs">Hub</tspan><tspan x="506.77" y="278.10" font-size="19.77" textLength="18.48" lengthAdjust="spacingAndGlyphs">st</tspan><tspan x="525.93" y="291.50" font-size="26.60" textLength="22.03" lengthAdjust="spacingAndGlyphs">-II</tspan></text>
<rect x="576.9" y="250.3" width="112.7" height="56.0" fill="#d9d5d0"/>
<text font-weight="bold"><tspan x="585.87" y="291.40" font-size="26.02" textLength="50.40" lengthAdjust="spacingAndGlyphs">Hub</tspan><tspan x="635.99" y="278.10" font-size="19.77" textLength="18.06" lengthAdjust="spacingAndGlyphs">st</tspan><tspan x="655.53" y="291.40" font-size="26.02" textLength="28.82" lengthAdjust="spacingAndGlyphs">-III</tspan></text>
<rect x="1051.9" y="269.0" width="114.3" height="54.1" fill="#d9d5d0"/>
<text font-weight="bold"><tspan x="1062.04" y="309.50" font-size="27.47" textLength="51.14" lengthAdjust="spacingAndGlyphs">Hub</tspan><tspan x="1111.92" y="295.20" font-size="20.29" textLength="25.56" lengthAdjust="spacingAndGlyphs">nd</tspan><tspan x="1137.38" y="309.50" font-size="27.47" textLength="15.97" lengthAdjust="spacingAndGlyphs">-I</tspan></text>
<rect x="1189.7" y="288.9" width="97.5" height="51.6" fill="#d9d5d0"/>
<text font-weight="bold"><tspan x="1200.02" y="319.80" font-size="21.08" textLength="40.02" lengthAdjust="spacingAndGlyphs">Hub</tspan><tspan x="1240.32" y="308.90" font-size="16.01" textLength="19.95" lengthAdjust="spacingAndGlyphs">nd</tspan><tspan x="1260.24" y="319.80" font-size="21.08" textLength="17.37" lengthAdjust="spacingAndGlyphs">-II</tspan></text>
<rect x="1344.5" y="288.9" width="96.4" height="51.6" fill="#d9d5d0"/>
<text font-weight="bold"><tspan x="1353.04" y="320.20" font-size="21.66" textLength="39.60" lengthAdjust="spacingAndGlyphs">Hub</tspan><tspan x="1394.56" y="308.90" font-size="16.01" textLength="17.49" lengthAdjust="spacingAndGlyphs">nd</tspan><tspan x="1413.22" y="320.20" font-size="21.66" textLength="23.21" lengthAdjust="spacingAndGlyphs">-III</tspan></text>
<rect x="1457.6" y="266.0" width="120.2" height="54.9" fill="#d9d5d0"/>
<text font-weight="bold"><tspan x="1465.82" y="306.50" font-size="26.89" textLength="51.77" lengthAdjust="spacingAndGlyphs">Hub</tspan><tspan x="1515.87" y="292.80" font-size="19.87" textLength="26.45" lengthAdjust="spacingAndGlyphs">nd</tspan><tspan x="1541.91" y="306.50" font-size="26.89" textLength="32.36" lengthAdjust="spacingAndGlyphs">-IV</tspan></text>
<rect x="203.0" y="709.8" width="113.2" height="55.3" fill="#d9d5d0"/>
<text font-weight="bold"><tspan x="211.34" y="751.90" font-size="27.47" textLength="51.14" lengthAdjust="spacingAndGlyphs">Hub</tspan><tspan x="261.95" y="737.20" font-size="19.73" textLength="20.50" lengthAdjust="spacingAndGlyphs">rd</tspan><tspan x="282.36" y="751.90" font-size="27.47" textLength="16.33" lengthAdjust="spacingAndGlyphs">-I</tspan></text>
<rect x="445.4" y="712.0" width="114.0" height="54.8" fill="#d9d5d0"/>
<text font-weight="bold"><tspan x="453.74" y="753.30" font-size="27.47" textLength="51.14" lengthAdjust="spacingAndGlyphs">Hub</tspan><tspan x="503.92" y="738.60" font-size="19.18" textLength="20.96" lengthAdjust="spacingAndGlyphs">rd</tspan><tspan x="524.84" y="753.30" font-size="27.47" textLength="21.91" lengthAdjust="spacingAndGlyphs">-II</tspan></text>
<rect x="688.6" y="705.4" width="113.8" height="54.7" fill="#d9d5d0"/>
<text font-weight="bold"><tspan x="697.73" y="745.80" font-size="26.60" textLength="51.35" lengthAdjust="spacingAndGlyphs">Hub</tspan><tspan x="748.30" y="731.80" font-size="19.32" textLength="19.70" lengthAdjust="spacingAndGlyphs">rd</tspan><tspan x="767.97" y="745.80" font-size="26.60" textLength="30.80" lengthAdjust="spacingAndGlyphs">-III</tspan></text>
<rect x="1013.4" y="658.2" width="104.3" height="55.6" fill="#d9d5d0"/>
<text font-weight="bold"><tspan x="1022.45" y="699.10" font-size="26.89" textLength="50.72" lengthAdjust="spacingAndGlyphs">Hub</tspan><tspan x="1073.47" y="685.20" font-size="19.18" textLength="17.58" lengthAdjust="spacingAndGlyphs">th</tspan><tspan x="1092.32" y="699.10" font-size="26.89" textLength="16.82" lengthAdjust="spacingAndGlyphs">-I</tspan></text>
<rect x="1154.6" y="672.6" width="103.6" height="55.2" fill="#d9d5d0"/>
<text font-weight="bold"><tspan x="1162.98" y="714.30" font-size="28.05" textLength="49.87" lengthAdjust="spacingAndGlyphs">Hub</tspan><tspan x="1213.17" y="700.40" font-size="20.29" textLength="17.58" lengthAdjust="spacingAndGlyphs">th</tspan><tspan x="1232.81" y="714.30" font-size="28.05" textLength="22.48" lengthAdjust="spacingAndGlyphs">-II</tspan></text>
<rect x="1347.4" y="672.6" width="112.1" height="55.2" fill="#d9d5d0"/>
<text font-weight="bold"><tspan x="1355.37" y="713.50" font-size="26.89" textLength="50.29" lengthAdjust="spacingAndGlyphs">Hub</tspan><tspan x="1405.86" y="700.00" font-size="19.73" textLength="18.45" lengthAdjust="spacingAndGlyphs">th</tspan><tspan x="1425.59" y="713.50" font-size="26.89" textLength="30.25" lengthAdjust="spacingAndGlyphs">-III</tspan></text>
<rect x="1489.0" y="659.0" width="113.2" height="54.8" fill="#d9d5d0"/>
<text font-weight="bold"><tspan x="1496.94" y="700.70" font-size="27.47" textLength="51.14" lengthAdjust="spacingAndGlyphs">Hub</tspan><tspan x="1547.56" y="686.40" font-size="19.18" textLength="18.45" lengthAdjust="spacingAndGlyphs">th</tspan><tspan x="1566.81" y="700.70" font-size="27.47" textLength="32.47" lengthAdjust="spacingAndGlyphs">-IV</tspan></text>
<rect x="1341.3" y="288.9" width="3.2" height="51.6" fill="#8e8c88"/>
<text font-weight="bold"><tspan x="743.54" y="73.01" font-size="44.31" textLength="11.80" lengthAdjust="spacingAndGlyphs">(</tspan><tspan x="757.32" y="72.38" font-size="42.71" textLength="20.55" lengthAdjust="spacingAndGlyphs">a</tspan><tspan x="781.26" y="73.01" font-size="44.31" textLength="12.86" lengthAdjust="spacingAndGlyphs">)</tspan></text>
<text font-weight="bold"><tspan x="1021.64" y="71.57" font-size="44.25" textLength="11.80" lengthAdjust="spacingAndGlyphs">(</tspan><tspan x="1035.35" y="70.68" font-size="42.62" textLength="25.46" lengthAdjust="spacingAndGlyphs">b</tspan><tspan x="1062.47" y="71.57" font-size="44.25" textLength="11.80" lengthAdjust="spacingAndGlyphs">)</tspan></text>
<text font-weight="bold"><tspan x="662.90" y="498.24" font-size="44.63" textLength="12.04" lengthAdjust="spacingAndGlyphs">(</tspan><tspan x="676.33" y="497.57" font-size="43.62" textLength="23.71" lengthAdjust="spacingAndGlyphs">c</tspan><tspan x="701.16" y="498.24" font-size="44.63" textLength="12.39" lengthAdjust="spacingAndGlyphs">)</tspan></text>
<text font-weight="bold"><tspan x="1086.28" y="496.77" font-size="44.95" textLength="12.15" lengthAdjust="spacingAndGlyphs">(</tspan><tspan x="1099.85" y="496.28" font-size="43.44" textLength="26.06" lengthAdjust="spacingAndGlyphs">d</tspan><tspan x="1127.16" y="496.77" font-size="44.95" textLength="12.15" lengthAdjust="spacingAndGlyphs">)</tspan></text>
<text stroke="#fff" stroke-width="0.3"><tspan x="71.87" y="38.19" font-size="52.31" textLength="25.45" lengthAdjust="spacingAndGlyphs">5</tspan><tspan x="98.28" y="38.19" font-size="52.26" textLength="24.55" lengthAdjust="spacingAndGlyphs">0</tspan><tspan x="123.65" y="38.19" font-size="52.26" textLength="24.90" lengthAdjust="spacingAndGlyphs">0</tspan><tspan x="149.71" y="38.19" font-size="52.26" textLength="24.08" lengthAdjust="spacingAndGlyphs">0</tspan></text>
<text stroke="#fff" stroke-width="0.3"><tspan x="149.97" y="373.78" font-size="52.97" textLength="23.15" lengthAdjust="spacingAndGlyphs">0</tspan></text>
<text stroke="#fff" stroke-width="0.3"><tspan x="181.47" y="413.81" font-size="50.56" textLength="24.66" lengthAdjust="spacingAndGlyphs">0</tspan></text>
<text stroke="#fff" stroke-width="0.3"><tspan x="487.91" y="414.88" font-size="52.74" textLength="26.28" lengthAdjust="spacingAndGlyphs">5</tspan></text>
<text stroke="#fff" stroke-width="0.3"><tspan x="780.74" y="413.96" font-size="47.45" textLength="30.97" lengthAdjust="spacingAndGlyphs" font-family="NanumGothic, 'Liberation Sans', sans-serif" stroke="#000" stroke-width="0.5">1</tspan><tspan x="809.48" y="414.99" font-size="51.98" textLength="24.55" lengthAdjust="spacingAndGlyphs">0</tspan></text>
<text stroke="#fff" stroke-width="0.3"><tspan x="881.31" y="38.29" font-size="52.31" textLength="24.87" lengthAdjust="spacingAndGlyphs">5</tspan><tspan x="907.47" y="38.29" font-size="52.26" textLength="24.66" lengthAdjust="spacingAndGlyphs">0</tspan><tspan x="932.86" y="38.29" font-size="52.26" textLength="24.78" lengthAdjust="spacingAndGlyphs">0</tspan><tspan x="958.36" y="38.29" font-size="52.26" textLength="24.78" lengthAdjust="spacingAndGlyphs">0</tspan></text>
<text stroke="#fff" stroke-width="0.3"><tspan x="958.46" y="375.38" font-size="53.53" textLength="24.78" lengthAdjust="spacingAndGlyphs">0</tspan></text>
<text stroke="#fff" stroke-width="0.3"><tspan x="990.45" y="417.20" font-size="51.27" textLength="26.41" lengthAdjust="spacingAndGlyphs">0</tspan></text>
<text stroke="#fff" stroke-width="0.3"><tspan x="1297.27" y="417.78" font-size="52.88" textLength="26.86" lengthAdjust="spacingAndGlyphs">5</tspan></text>
<text stroke="#fff" stroke-width="0.3"><tspan x="1587.52" y="416.95" font-size="48.39" textLength="33.64" lengthAdjust="spacingAndGlyphs" font-family="NanumGothic, 'Liberation Sans', sans-serif" stroke="#000" stroke-width="0.5">1</tspan><tspan x="1620.19" y="418.08" font-size="53.11" textLength="25.71" lengthAdjust="spacingAndGlyphs">0</tspan></text>
<text stroke="#fff" stroke-width="0.3"><tspan x="71.81" y="463.19" font-size="52.31" textLength="26.28" lengthAdjust="spacingAndGlyphs">5</tspan><tspan x="98.12" y="463.19" font-size="52.26" textLength="23.97" lengthAdjust="spacingAndGlyphs">0</tspan><tspan x="123.41" y="463.19" font-size="52.26" textLength="25.48" lengthAdjust="spacingAndGlyphs">0</tspan><tspan x="148.96" y="463.19" font-size="52.26" textLength="24.78" lengthAdjust="spacingAndGlyphs">0</tspan></text>
<text stroke="#fff" stroke-width="0.3"><tspan x="149.18" y="815.50" font-size="51.41" textLength="25.94" lengthAdjust="spacingAndGlyphs">0</tspan></text>
<text stroke="#fff" stroke-width="0.3"><tspan x="870.21" y="466.70" font-size="53.49" textLength="28.92" lengthAdjust="spacingAndGlyphs">4</tspan><tspan x="899.97" y="466.19" font-size="52.54" textLength="26.06" lengthAdjust="spacingAndGlyphs">0</tspan><tspan x="928.10" y="466.19" font-size="52.54" textLength="25.60" lengthAdjust="spacingAndGlyphs">0</tspan><tspan x="956.87" y="466.19" font-size="52.54" textLength="26.06" lengthAdjust="spacingAndGlyphs">0</tspan></text>
<text stroke="#fff" stroke-width="0.3"><tspan x="955.40" y="812.19" font-size="51.98" textLength="26.99" lengthAdjust="spacingAndGlyphs">0</tspan></text>
<text transform="translate(40.49,437.06) rotate(-90) scale(1,0.9621)" font-size="54.52" font-weight="bold">Amount</text>
<text font-weight="bold"><tspan x="822.78" y="876.80" font-size="51.47" textLength="201.69" lengthAdjust="spacingAndGlyphs">Position</tspan></text>
<path d="M62.8,712V70" stroke="#000" stroke-width="5"/>
<path d="M62.8,52L75.5,89L62.8,78L50,89Z" fill="#000"/>
<path d="M506.5,830.8H1230" stroke="#000" stroke-width="5"/>
<path d="M1251,830.7L1216.8,817.4L1226.4,830.7L1216.8,844.1Z" fill="#000"/>
</g>
</svg></body></html>
